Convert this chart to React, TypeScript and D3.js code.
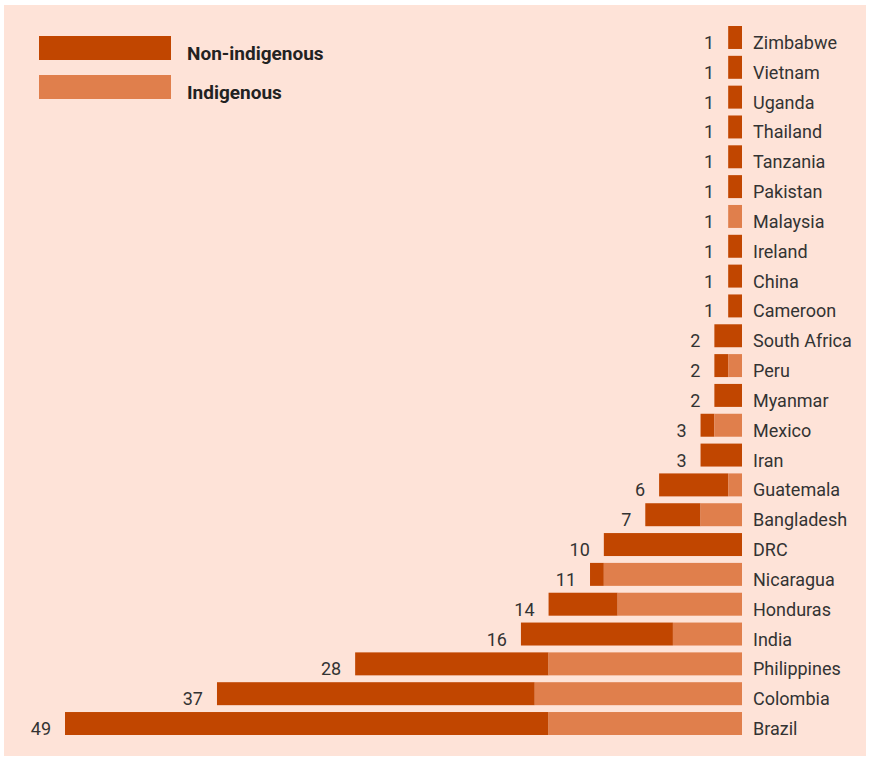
import React from 'react';
import * as d3 from 'd3';

const countries = ['Zimbabwe', 'Vietnam', 'Uganda', 'Thailand', 'Tanzania', 'Pakistan', 'Malaysia', 'Ireland', 'China', 'Cameroon', 'South Africa', 'Peru', 'Myanmar', 'Mexico', 'Iran', 'Guatemala', 'Bangladesh', 'DRC', 'Nicaragua', 'Honduras', 'India', 'Philippines', 'Colombia', 'Brazil'];
const nonIndigenous = [1, 1, 1, 1, 1, 1, 0, 1, 1, 1, 2, 1, 2, 1, 3, 5, 4, 10, 1, 5, 11, 14, 23, 35];
const indigenous = [0, 0, 0, 0, 0, 0, 1, 0, 0, 0, 0, 1, 0, 2, 0, 1, 3, 0, 10, 9, 5, 14, 15, 14];
// totals as printed on the chart
const totalLabels = [1, 1, 1, 1, 1, 1, 1, 1, 1, 1, 2, 2, 2, 3, 3, 6, 7, 10, 11, 14, 16, 28, 37, 49];
const seriesNames = ['Non-indigenous', 'Indigenous'];

const W = 869;
const H = 757;
const DARK = '#c14600';
const LIGHT = '#e07f4c';
const BG = '#fee3d8';
const TEXT = '#333333';
const FONT = 'Roboto, sans-serif';

export default function App() {
  const right = 742;
  const x = d3.scaleLinear().domain([0, 49]).range([0, 677]);
  const y = d3.scaleBand<string>().domain(countries).range([26, 735]).paddingInner(0.23).paddingOuter(0);
  const bh = y.bandwidth();

  return (
    <svg width={W} height={H} style={{ position: 'absolute', left: 0, top: 0 }}>
      <rect x={0} y={0} width={W} height={H} fill="#ffffff" />
      <rect x={4} y={5} width={862} height={751} fill={BG} />
      {/* legend */}
      {seriesNames.map((name, i) => (
        <g key={name}>
          <rect x={39} y={36 + i * 39} width={132} height={24} fill={i === 0 ? DARK : LIGHT} />
          <text x={187} y={60 + i * 39} fontFamily={FONT} fontWeight={700} fontSize={19} fill="#222222">{name}</text>
        </g>
      ))}
      {countries.map((c, i) => {
        const yy = y(c)!;
        const wNon = x(nonIndigenous[i]);
        const wInd = x(indigenous[i]);
        const start = right - wNon - wInd;
        return (
          <g key={c}>
            <rect x={start} y={yy} width={wNon} height={bh} fill={DARK} />
            <rect x={start + wNon} y={yy} width={wInd} height={bh} fill={LIGHT} />
            <text x={start - 14} y={yy + bh} textAnchor="end" fontFamily={FONT} fontSize={18} fill={TEXT}>{totalLabels[i]}</text>
            <text x={753} y={yy + bh} fontFamily={FONT} fontSize={18} fill={TEXT}>{c}</text>
          </g>
        );
      })}
    </svg>
  );
}
